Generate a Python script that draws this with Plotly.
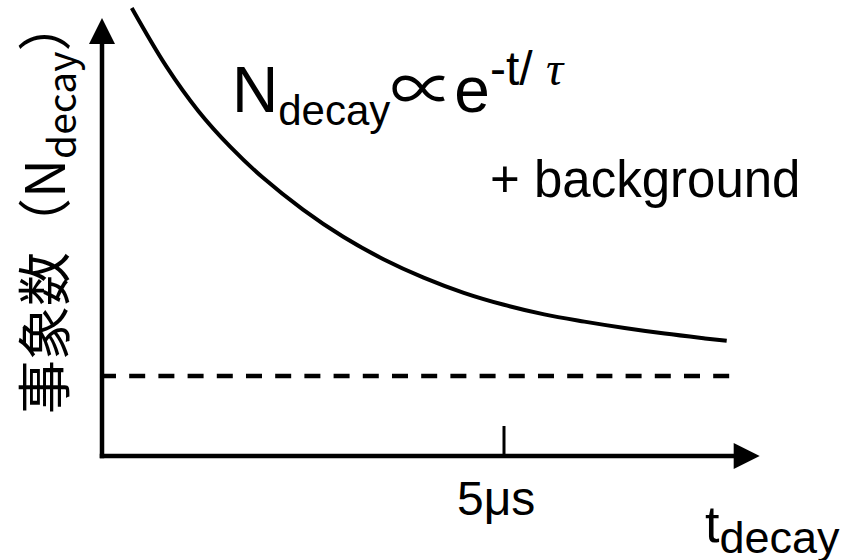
import plotly.graph_objects as go

# ---- data -------------------------------------------------------------
# decay time t [μs] and event counts N (background level = 1)
t_decay = [0.37, 0.8, 1.2, 1.6, 2.0, 2.5, 3.0, 3.5, 4.0, 4.5, 5.0, 5.5, 6.0, 6.5, 7.0, 7.5, 7.77]
n_decay = [5.60, 4.87, 4.31, 3.86, 3.48, 3.08, 2.74, 2.46, 2.23, 2.04, 1.89, 1.77, 1.68, 1.60, 1.53, 1.47, 1.44]
background_t = [-0.025, 7.81]
background_n = [1.0, 1.0]
tick_t = [5]
tick_labels = ["5μs"]

# ---- geometry (axis extents in data units) ----------------------------
W, H = 848, 560
X_RANGE = [-1.2687, 9.2786]
Y_RANGE = [-1.3, 5.7]
px_x = W / (X_RANGE[1] - X_RANGE[0])   # pixels per μs
px_y = H / (Y_RANGE[1] - Y_RANGE[0])   # pixels per count unit

X_TIP = 8.18       # x-axis arrow tip
Y_TIP = 5.475      # y-axis arrow tip
HEAD_LEN = 26      # arrow head length, px
HEAD_HALF = 13     # arrow head half width, px
AXIS_W = 4.5
BLACK = "#000000"
FONT = "Liberation Sans, Arial, Noto Sans CJK JP, sans-serif"

fig = go.Figure()

# exponential decay on top of the background
fig.add_trace(go.Scatter(
    x=t_decay, y=n_decay, mode="lines",
    line=dict(color=BLACK, width=4, shape="spline", smoothing=1.0),
    hoverinfo="skip", showlegend=False,
))

# flat background level
fig.add_trace(go.Scatter(
    x=background_t, y=background_n, mode="lines",
    line=dict(color=BLACK, width=4.5, dash="16px,13.2px"),
    hoverinfo="skip", showlegend=False,
))

shapes = []
x_base = X_TIP - HEAD_LEN / px_x
y_base = Y_TIP - HEAD_LEN / px_y
# axis lines
shapes.append(dict(type="line", xref="x", yref="y", x0=-AXIS_W / 2 / px_x, y0=0, x1=x_base + 0.01, y1=0,
                   line=dict(color=BLACK, width=AXIS_W)))
shapes.append(dict(type="line", xref="x", yref="y", x0=0, y0=-AXIS_W / 2 / px_y, x1=0, y1=y_base + 0.01,
                   line=dict(color=BLACK, width=AXIS_W)))
# arrow heads
shapes.append(dict(type="path", xref="x", yref="y",
                   path=f"M {x_base},{HEAD_HALF / px_y} L {X_TIP},0 L {x_base},{-HEAD_HALF / px_y} Z",
                   fillcolor=BLACK, line=dict(color=BLACK, width=0)))
shapes.append(dict(type="path", xref="x", yref="y",
                   path=f"M {-HEAD_HALF / px_x},{y_base} L 0,{Y_TIP} L {HEAD_HALF / px_x},{y_base} Z",
                   fillcolor=BLACK, line=dict(color=BLACK, width=0)))
# tick marks
for tv in tick_t:
    shapes.append(dict(type="line", xref="x", yref="y", x0=tv, y0=0, x1=tv, y1=30 / px_y,
                       line=dict(color=BLACK, width=3)))

annotations = []
# tick labels
for tv, lab in zip(tick_t, tick_labels):
    annotations.append(dict(x=tv, y=-42 / px_y, xref="x", yref="y", text=lab, showarrow=False,
                            xanchor="center", yanchor="middle", xshift=-8,
                            font=dict(family=FONT, size=48, color=BLACK)))


def pp(xp, yp):
    return xp / W, 1 - yp / H


# axis titles and formula
ax, ay = pp(703, 529)
annotations.append(dict(x=ax, y=ay, xref="paper", yref="paper", showarrow=False,
                        xanchor="left", yanchor="middle",
                        text="t<sub><span style='font-size:45px'>decay</span></sub>",
                        font=dict(family=FONT, size=52, color=BLACK)))

ax, ay = pp(44, 206)
annotations.append(dict(x=ax, y=ay, xref="paper", yref="paper", showarrow=False,
                        xanchor="center", yanchor="middle", textangle=-90,
                        text="事象数（N<sub><span style='font-size:39px'>decay</span></sub>）",
                        font=dict(family="Noto Sans CJK JP, sans-serif", size=54, color=BLACK)))

ax, ay = pp(230, 88)
annotations.append(dict(x=ax, y=ay, xref="paper", yref="paper", showarrow=False,
                        xanchor="left", yanchor="middle",
                        text=("N<sub><span style='font-size:42px'>decay</span></sub>∝e"
                              "<sup><span style='font-size:48px'>-t/ </span>"
                              "<span style=\"font-size:48px;font-family:'Liberation Serif';font-style:italic\">τ</span></sup>"),
                        font=dict(family=FONT, size=64, color=BLACK)))

ax, ay = pp(488, 180)
annotations.append(dict(x=ax, y=ay, xref="paper", yref="paper", showarrow=False,
                        xanchor="left", yanchor="middle",
                        text="+ background",
                        font=dict(family=FONT, size=51, color=BLACK)))

fig.update_layout(
    width=W, height=H, autosize=False,
    margin=dict(l=0, r=0, t=0, b=0),
    paper_bgcolor="white", plot_bgcolor="white",
    xaxis=dict(range=X_RANGE, visible=False, fixedrange=True),
    yaxis=dict(range=Y_RANGE, visible=False, fixedrange=True),
    shapes=shapes, annotations=annotations,
    showlegend=False,
)

fig.write_html("out.html")
